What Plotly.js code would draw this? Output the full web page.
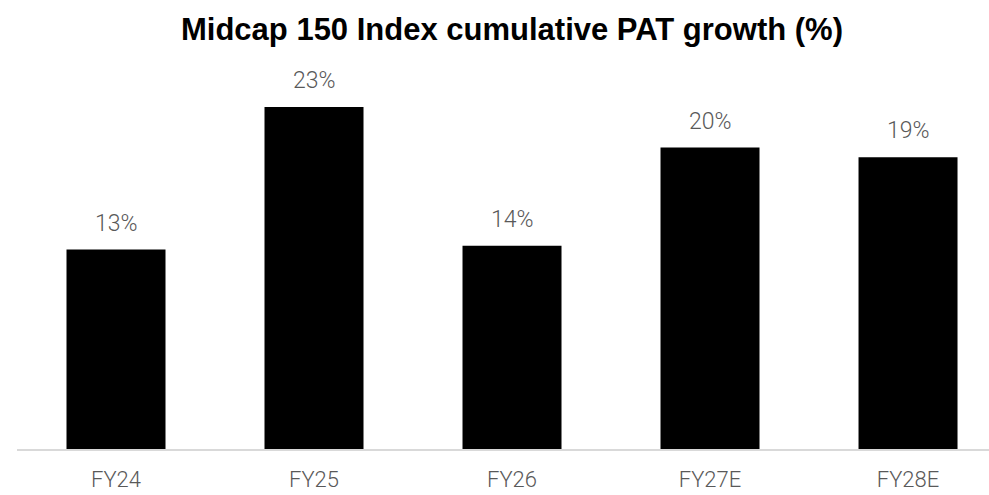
<!DOCTYPE html>
<html>
<head>
<meta charset="utf-8">
<script src="https://cdn.plot.ly/plotly-3.0.1.min.js"></script>
<style>html,body{margin:0;padding:0;background:#fff;}#chart{width:989px;height:495px;}</style>
</head>
<body>
<div id="chart"></div>
<script>
const categories = ["FY24", "FY25", "FY26", "FY27E", "FY28E"];
const growth = [13.3, 22.8, 13.55, 20.1, 19.45];
const labels = ["13%", "23%", "14%", "20%", "19%"];
const chartTitle = "Midcap 150 Index cumulative PAT growth (%)";

const labelFont = {family: "Roboto, 'Liberation Sans', Arial, sans-serif", size: 23, color: "#595959", weight: 300};
const tickFont = {family: "Roboto, 'Liberation Sans', Arial, sans-serif", size: 22, color: "#595959", weight: 300};

const trace = {
  type: "bar",
  x: categories,
  y: growth,
  marker: {color: "#000000", line: {width: 0}},
  hoverinfo: "skip"
};

const annotations = categories.map((c, i) => ({
  x: c, y: growth[i], xref: "x", yref: "y",
  text: labels[i], showarrow: false,
  yanchor: "bottom", yshift: 11,
  font: labelFont
}));

const layout = {
  width: 989, height: 495,
  margin: {l: 17, r: 0, t: 59, b: 46},
  paper_bgcolor: "#ffffff", plot_bgcolor: "#ffffff",
  title: {
    text: "<b>" + chartTitle + "</b>",
    x: 512/989, xanchor: "center", xref: "container",
    y: 1 - 29/495, yanchor: "middle", yref: "container",
    font: {family: "'Liberation Sans', Arial, sans-serif", size: 31, color: "#000000"}
  },
  bargap: 0.5,
  showlegend: false,
  xaxis: {
    type: "category",
    range: [-0.5, 4.409],
    showline: true, linecolor: "#d9d9d9", linewidth: 2,
    showgrid: false, zeroline: false, ticks: "",
    ticklabelstandoff: 10,
    tickfont: tickFont
  },
  yaxis: {
    range: [0, 26],
    showgrid: false, zeroline: false, showline: false,
    showticklabels: false, ticks: ""
  },
  annotations: annotations
};

Plotly.newPlot("chart", [trace], layout, {displayModeBar: false, staticPlot: true});
</script>
</body>
</html>
